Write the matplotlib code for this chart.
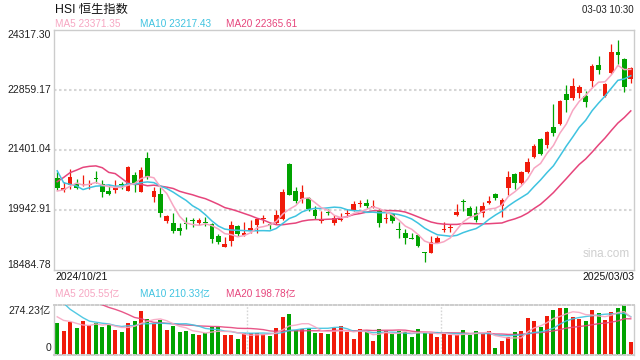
import matplotlib
matplotlib.use("Agg")
import matplotlib.pyplot as plt
import matplotlib.transforms as mtransforms
import numpy as np
import pandas as pd

# ---------------- data ----------------
title = "HSI 恒生指数"
timestamp = "03-03 10:30"
start_label = "2024/10/21"
end_label = "2025/03/03"
ma_labels = ["MA5 23371.35", "MA10 23217.43", "MA20 22365.61"]
vol_ma_labels = ["MA5 205.55亿", "MA10 210.33亿", "MA20 198.78亿"]
price_ticks = [18484.78, 19942.91, 21401.04, 22859.17, 24317.30]
vol_top = 274.23

opens = [20701, 20417, 20531, 20555, 20531, 20550, 20705, 20555, 20392, 20417,
         20560, 20400, 20781, 20376, 21187, 20254, 20320, 19671, 19608, 19501,
         19590, 19676, 19615, 19646, 19591, 19299, 19039, 19185, 19542, 19331,
         19428, 19566, 19700, 19565, 19608, 19705, 21049, 20400, 20198, 20215,
         19931, 19655, 19880, 19608, 19680, 19845, 19931, 20070, 20108, 19995,
         19931, 19700, 19834, 19450, 19364, 19248, 19323, 18900, 18893, 19136,
         19440, 19493, 19802, 20125, 19972, 19851, 19851, 20108, 20320, 20035,
         20473, 20806, 20580, 20847, 21226, 21656, 21510, 21941, 22021, 22750,
         22645, 22781, 22701, 23073, 23455, 22709, 23253, 23763, 23593, 23114]
highs = [20847, 20619, 20920, 20677, 20781, 20652, 20879, 20660, 20538, 20660,
         20619, 21000, 20862, 20983, 21348, 20497, 20497, 19809, 19851, 19608,
         19768, 19744, 19744, 19753, 19622, 19348, 19282, 19671, 19566, 19646,
         19688, 19729, 19802, 19608, 19931, 20434, 21066, 20497, 20538, 20254,
         20028, 19907, 19955, 19809, 19851, 19948, 20157, 20174, 20191, 20174,
         19972, 19865, 19851, 19646, 19462, 19379, 19348, 18917, 19299, 19299,
         19646, 19591, 20077, 20191, 20028, 20028, 20132, 20271, 20337, 20215,
         20879, 20823, 20886, 21202, 21527, 21688, 21851, 22507, 22604, 22969,
         23131, 22961, 22830, 23472, 23673, 23010, 23958, 24062, 23617, 23399]
lows = [20417, 20376, 20434, 20441, 20521, 20434, 20580, 20254, 20295, 20337,
        20441, 20400, 20361, 20376, 20684, 20132, 19753, 19608, 19379, 19323,
        19462, 19510, 19566, 19542, 19122, 19097, 19039, 19056, 19306, 19299,
        19379, 19379, 19608, 19462, 19591, 19688, 20295, 20094, 20108, 19914,
        19705, 19608, 19809, 19566, 19663, 19753, 19914, 20011, 19972, 19990,
        19525, 19622, 19622, 19243, 19105, 19219, 19024, 18674, 18893, 19122,
        19403, 19403, 19785, 19914, 19753, 19646, 19768, 20077, 20174, 19753,
        20295, 20434, 20555, 20823, 21202, 21267, 21430, 21729, 22004, 22320,
        22604, 22645, 22427, 22927, 23229, 22684, 23229, 23472, 22798, 23010]
closes = [20473, 20458, 20725, 20473, 20555, 20560, 20695, 20376, 20312, 20458,
          20550, 20969, 20580, 20903, 20725, 20392, 19851, 19785, 19428, 19428,
          19580, 19666, 19688, 19608, 19219, 19160, 19105, 19566, 19348, 19372,
          19493, 19712, 19710, 19555, 19809, 20376, 20295, 20150, 20376, 19948,
          19785, 19665, 19870, 19729, 19690, 19860, 20077, 20080, 20028, 20005,
          19622, 19710, 19671, 19440, 19258, 19238, 19056, 18890, 19160, 19243,
          19450, 19525, 19882, 20115, 19785, 19688, 20028, 20157, 20215, 20174,
          20725, 20594, 20847, 21090, 21486, 21292, 21819, 21809, 22580, 22604,
          22944, 22913, 22563, 23430, 23333, 22993, 23763, 23698, 22927, 23370]
volumes = [174, 130, 182, 146, 185, 161, 172, 152, 165, 135,
           124, 174, 185, 241, 196, 170, 193, 135, 157, 124,
           130, 113, 107, 120, 152, 152, 107, 107, 85, 117,
           117, 120, 111, 102, 145, 208, 224, 135, 141, 145,
           120, 120, 113, 148, 157, 124, 85, 141, 124, 74,
           141, 130, 113, 130, 124, 96, 141, 124, 119, 96,
           113, 107, 107, 135, 107, 130, 119, 130, 35, 74,
           96, 124, 130, 202, 185, 152, 213, 246, 258, 258,
           208, 196, 185, 246, 230, 191, 235, 258, 274.23, 69]
# closes / volumes of the 19 sessions before the window (estimated from the MA lines)
prior_closes = [18393, 18382, 19264, 19206, 20059, 20490, 21269, 22579, 21042, 22872,
                23350, 21127, 20837, 21452, 20094, 20319, 20287, 20080, 20804]
prior_volumes = [200, 220, 330, 300, 320, 350, 400, 450, 350, 380,
                 480, 520, 380, 420, 350, 230, 210, 200, 230]

# ---------------- style ----------------
RED = "#f01a0a"
GREEN = "#00a300"
C_MA5 = "#f7a6c2"
C_MA10 = "#3fc3e0"
C_MA20 = "#e6457c"
GRID = "#d6d6d6"
SPINE = "#cccccc"
FONT = ["Liberation Sans", "Noto Sans CJK SC", "DejaVu Sans"]
plt.rcParams["font.family"] = FONT

W, H = 640, 360
fig = plt.figure(figsize=(W / 100, H / 100), dpi=100)
fig.patch.set_facecolor("white")

def fx(px):
    return px / W

def fy(py):
    return 1 - py / H

ax = fig.add_axes([fx(54), fy(269.5), fx(580), 240 / H])
axv = fig.add_axes([fx(54), fy(354.5), fx(580), 49.5 / H])

n = len(closes)
x = np.arange(n)
o = np.array(opens, float)
c = np.array(closes, float)
hi = np.array(highs, float)
lo = np.array(lows, float)
up = c >= o
colors = np.where(up, RED, GREEN)

all_c = pd.Series(list(prior_closes) + list(closes), dtype=float)
ma5 = all_c.rolling(5).mean().values[-n:]
ma10 = all_c.rolling(10).mean().values[-n:]
ma20 = all_c.rolling(20).mean().values[-n:]
all_v = pd.Series(list(prior_volumes) + list(volumes), dtype=float)
vma5 = all_v.rolling(5).mean().values[-n:]
vma10 = all_v.rolling(10).mean().values[-n:]
vma20 = all_v.rolling(20).mean().values[-n:]

# ---------------- price panel ----------------
ymin, ymax = price_ticks[0], price_ticks[-1]
ax.set_xlim(-0.5, n - 0.5)
ax.set_ylim(ymin, ymax)
for v in price_ticks[1:-1]:
    ax.axhline(v, color=GRID, lw=1.5, ls=(0, (1.2, 1.2)), zorder=0)

minh = (ymax - ymin) / 240 * 1.0
ax.vlines(x, lo, hi, colors=colors, lw=0.9, zorder=2)
body_h = np.maximum(np.abs(c - o), minh)
ax.bar(x, body_h, bottom=np.minimum(o, c), width=0.72, color=colors, lw=0, zorder=3)

ax.plot(x, ma20, color=C_MA20, lw=1.1, zorder=4)
ax.plot(x, ma10, color=C_MA10, lw=1.1, zorder=4)
ax.plot(x, ma5, color=C_MA5, lw=1.1, zorder=4)

ax.set_xticks([])
ax.set_yticks([])
for s in ax.spines.values():
    s.set_color(SPINE)
    s.set_linewidth(1)

trans = mtransforms.blended_transform_factory(fig.transFigure, ax.transData)
for i, v in enumerate(price_ticks):
    va = "bottom" if i == 0 else ("top" if i == len(price_ticks) - 1 else "center")
    ax.text(fx(51), v, f"{v:.2f}", transform=trans, ha="right", va=va,
            fontsize=7.5, color="#222222")

ax.text(0.993, 0.04, "sina.com", transform=ax.transAxes, ha="right", va="bottom",
        fontsize=8.5, color="#cfcfcf")

# ---------------- volume panel ----------------
axv.set_xlim(-0.5, n - 0.5)
axv.set_ylim(0, vol_top)
axv.bar(x, volumes, width=0.62, color=colors, lw=0, zorder=2)
axv.plot(x, vma20, color=C_MA20, lw=1.0, zorder=3, alpha=0.9)
axv.plot(x, vma10, color=C_MA10, lw=1.0, zorder=3, alpha=0.9)
axv.plot(x, vma5, color=C_MA5, lw=1.0, zorder=3, alpha=0.9)
for xv in [n / 3 - 0.5, 2 * n / 3 - 0.5]:
    axv.axvline(xv, color=GRID, lw=1.0, ls=(0, (1.2, 1.2)), zorder=0)
axv.set_xticks([])
axv.set_yticks([])
for k, s in axv.spines.items():
    s.set_color(SPINE)
    s.set_linewidth(1)
axv.spines["top"].set_linestyle((0, (1.2, 1.2)))
axv.spines["bottom"].set_linestyle((0, (1.2, 1.2)))
axv.spines["top"].set_linewidth(1.4)
axv.spines["bottom"].set_linewidth(1.4)

fig.text(fx(51), fy(311), f"{vol_top:.2f}亿", ha="right", va="center", fontsize=7.5, color="#222222")
fig.text(fx(51), fy(348), "0", ha="right", va="center", fontsize=7.5, color="#222222")

# ---------------- header texts ----------------
fig.text(fx(55), fy(10), title, ha="left", va="center", fontsize=8.8, color="#111111")
fig.text(fx(634), fy(10), timestamp, ha="right", va="center", fontsize=7, color="#222222")
for lbl, col, px in zip(ma_labels, [C_MA5, C_MA10, C_MA20], [55, 140, 226]):
    fig.text(fx(px), fy(24), lbl, ha="left", va="center", fontsize=7.2, color=col)
fig.text(fx(55), fy(277), start_label, ha="left", va="center", fontsize=7.5, color="#111111")
fig.text(fx(634), fy(277), end_label, ha="right", va="center", fontsize=7.5, color="#111111")
for lbl, col, px in zip(vol_ma_labels, [C_MA5, C_MA10, C_MA20], [55, 140, 226]):
    fig.text(fx(px), fy(294), lbl, ha="left", va="center", fontsize=7.2, color=col)

fig.savefig("out.png", dpi=100, facecolor="white")
